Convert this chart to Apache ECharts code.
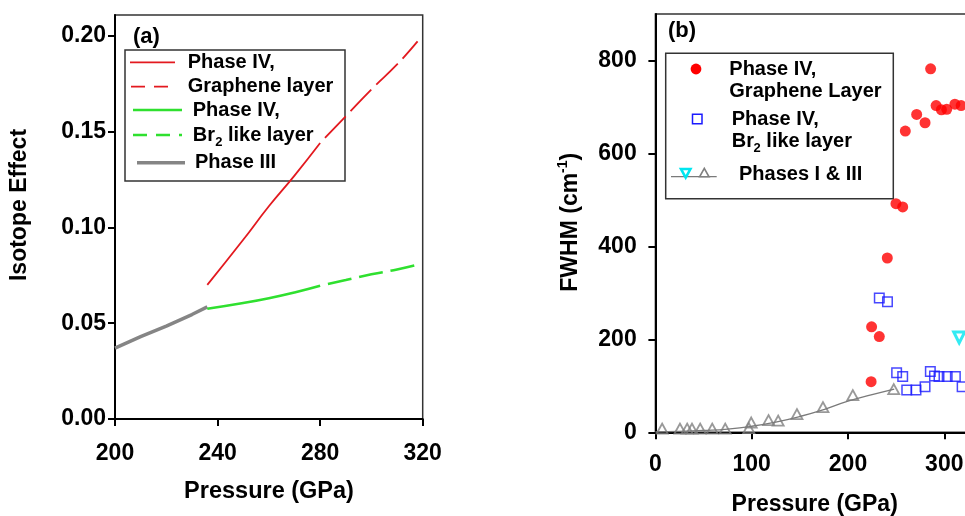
<!DOCTYPE html>
<html>
<head>
<meta charset="utf-8">
<script src="https://cdn.jsdelivr.net/npm/echarts@6/dist/echarts.min.js"></script>
<style>
  html, body { margin: 0; padding: 0; background: #fff; }
  #chart { width: 965px; height: 516px; }
</style>
</head>
<body>
<div id="chart"></div>
<script>
// ---- Panel (a): isotope effect against pressure ----
const pressureIII = [200, 210, 220, 230, 236];
const isotopeIII = [0.037, 0.043, 0.0485, 0.0545, 0.0585];
const pressureGrapheneSolid = [236, 250, 260, 270, 280];
const isotopeGrapheneSolid = [0.070, 0.0935, 0.111, 0.127, 0.144];
const pressureGrapheneDash = [280, 290, 300, 310, 318];
const isotopeGrapheneDash = [0.144, 0.158, 0.172, 0.185, 0.197];
const pressureBr2Solid = [236, 250, 260, 270, 280];
const isotopeBr2Solid = [0.0575, 0.0605, 0.063, 0.066, 0.0695];
const pressureBr2Dash = [280, 290, 300, 310, 318];
const isotopeBr2Dash = [0.0695, 0.0725, 0.0755, 0.078, 0.0805];
const isotopeTicks = [0, 0.05, 0.10, 0.15, 0.20];

// ---- Panel (b): FWHM against pressure ----
const grapheneP = [224, 224.5, 232.5, 240.8, 249.8, 256.8, 259.5, 271.3, 280, 285.8, 291.5, 297, 302.5, 311, 317.5];
const grapheneFwhm = [109, 227, 206, 375, 492, 485, 648, 684, 666, 782, 703, 694, 695, 706, 703];
const br2P = [232.5, 241, 250.5, 256.8, 261, 270.6, 280, 285.5, 289.8, 294.5, 303, 311.5, 318.5];
const br2Fwhm = [289, 281, 128, 120, 91, 91, 98, 131, 121, 120, 120, 120, 98];
const phaseIP = [315.5];
const phaseIFwhm = [204];
const phaseIIIP = [7, 25.5, 33, 38, 46.5, 59, 72.5, 97, 99.5, 117.5, 127.5, 147, 174, 205, 247.5];
const phaseIIIFwhm = [8, 8, 8, 8, 8, 8, 8, 9, 21, 26, 25, 39, 54, 80, 93];
const fitP = [0, 25, 50, 75, 100, 125, 150, 175, 200, 225, 248];
const fitFwhm = [1, 2, 4, 7, 13, 22, 34, 49, 67, 81, 93];
const fwhmTicks = [0, 200, 400, 600, 800];

const FONT = '"Liberation Sans", Arial, Helvetica, sans-serif';
const zip = (xs, ys) => xs.map((x, i) => [x, ys[i]]);

const chart = echarts.init(document.getElementById('chart'), null, { renderer: 'canvas' });

function axisBase(extra) {
  return Object.assign({
    type: 'value',
    axisLine: { show: true, onZero: false, lineStyle: { color: '#000', width: 2 } },
    axisTick: { show: true, inside: false, length: 7, lineStyle: { color: '#000', width: 2 } },
    splitLine: { show: false }
  }, extra);
}
function labelStyle(margin, formatter, customValues) {
  const s = { color: '#000', fontFamily: FONT, fontWeight: 'bold', fontSize: 23, margin: margin };
  if (formatter) s.formatter = formatter;
  if (customValues) s.customValues = customValues;
  return s;
}
function text(x, y, s, size, opts) {
  opts = opts || {};
  return {
    type: 'text', x: x, y: y, z: 10, rotation: opts.rotation || 0,
    style: {
      text: s, x: 0, y: 0, fill: '#000',
      font: 'bold ' + size + 'px ' + FONT,
      align: opts.align || 'left', verticalAlign: 'middle',
      textAlign: opts.align || 'left', textVerticalAlign: 'middle'
    }
  };
}
function seg(x1, y1, x2, y2, color, width, dash) {
  return {
    type: 'line', z: 10,
    shape: { x1: x1, y1: y1, x2: x2, y2: y2 },
    style: { stroke: color, lineWidth: width, lineDash: dash || null }
  };
}

const RED_A = '#e3191f', GREEN_A = '#2fe02f', GRAY_A = '#858585';

const option = {
  animation: false,
  backgroundColor: '#fff',
  grid: [
    { left: 115, top: 15, width: 307.7, height: 404, outerBoundsMode: 'none', containLabel: false,
      show: true, borderColor: '#333', borderWidth: 1.5, backgroundColor: 'transparent' },
    { left: 655.4, top: 14, width: 385.2, height: 418.3, outerBoundsMode: 'none', containLabel: false,
      show: true, borderColor: '#333', borderWidth: 1.5, backgroundColor: 'transparent' }
  ],
  xAxis: [
    axisBase({ gridIndex: 0, min: 200, max: 320, interval: 40, axisLabel: labelStyle(23) }),
    axisBase({ gridIndex: 1, min: 0, max: 400, interval: 100, axisLabel: labelStyle(21) })
  ],
  yAxis: [
    axisBase({
      gridIndex: 0, min: 0, max: 0.2108,
      axisTick: { show: true, inside: false, length: 7, customValues: isotopeTicks, lineStyle: { color: '#000', width: 2 } },
      axisLabel: labelStyle(9, v => v.toFixed(2), isotopeTicks)
    }),
    axisBase({
      gridIndex: 1, min: 0, max: 900,
      axisTick: { show: true, inside: false, length: 7, customValues: fwhmTicks, lineStyle: { color: '#000', width: 2 } },
      axisLabel: labelStyle(18.7, null, fwhmTicks)
    })
  ],
  series: [
    // (a) curves
    { type: 'line', xAxisIndex: 0, yAxisIndex: 0, data: zip(pressureIII, isotopeIII), symbol: 'none', silent: true,
      lineStyle: { color: GRAY_A, width: 3.5 } },
    { type: 'line', xAxisIndex: 0, yAxisIndex: 0, data: zip(pressureBr2Solid, isotopeBr2Solid), symbol: 'none', silent: true, smooth: true,
      lineStyle: { color: GREEN_A, width: 2.6 } },
    { type: 'line', xAxisIndex: 0, yAxisIndex: 0, data: zip(pressureBr2Dash, isotopeBr2Dash), symbol: 'none', silent: true, smooth: true,
      lineStyle: { color: GREEN_A, width: 2.6, type: [24, 8], dashOffset: 24 } },
    { type: 'line', xAxisIndex: 0, yAxisIndex: 0, data: zip(pressureGrapheneSolid, isotopeGrapheneSolid), symbol: 'none', silent: true, smooth: true,
      lineStyle: { color: RED_A, width: 1.8 } },
    { type: 'line', xAxisIndex: 0, yAxisIndex: 0, data: zip(pressureGrapheneDash, isotopeGrapheneDash), symbol: 'none', silent: true, smooth: true,
      lineStyle: { color: RED_A, width: 1.8, type: [30, 7], dashOffset: 30 } },
    // (b) markers
    { type: 'line', xAxisIndex: 1, yAxisIndex: 1, data: zip(fitP, fitFwhm), symbol: 'none', silent: true, smooth: true,
      lineStyle: { color: '#7a7a7a', width: 1.3 } },
    { type: 'scatter', xAxisIndex: 1, yAxisIndex: 1, data: zip(phaseIIIP, phaseIIIFwhm), symbol: 'triangle', symbolSize: [11, 10], silent: true,
      itemStyle: { color: 'rgba(255,255,255,0)', borderColor: '#808080', borderWidth: 1.8 } },
    { type: 'scatter', xAxisIndex: 1, yAxisIndex: 1, data: zip(grapheneP, grapheneFwhm), symbol: 'circle', symbolSize: 11, silent: true,
      itemStyle: { color: '#ff0000' } },
    { type: 'scatter', xAxisIndex: 1, yAxisIndex: 1, data: zip(br2P, br2Fwhm), symbol: 'rect', symbolSize: 9.5, silent: true,
      itemStyle: { color: 'rgba(255,255,255,0)', borderColor: '#1a1aff', borderWidth: 1.5 } },
    { type: 'scatter', xAxisIndex: 1, yAxisIndex: 1, data: zip(phaseIP, phaseIFwhm), symbol: 'triangle', symbolRotate: 180, symbolSize: 11, silent: true,
      itemStyle: { color: 'rgba(255,255,255,0)', borderColor: '#00e6f0', borderWidth: 3 } }
  ],
  graphic: [
    // panel tags
    text(133, 37, '(a)', 22),
    text(668, 31, '(b)', 22),
    // axis titles
    text(20, 205, 'Isotope Effect', 23, { rotation: Math.PI / 2, align: 'center' }),
    text(269, 491.7, 'Pressure (GPa)', 23.5, { align: 'center' }),
    text(814.7, 505, 'Pressure (GPa)', 23, { align: 'center' }),
    {
      type: 'group', x: 571, y: 291.7, rotation: Math.PI / 2,
      children: [
        text(0, 0, 'FWHM (cm', 23),
        text(118.8, -8, '-1', 14),
        text(131.2, 0, ')', 23)
      ]
    },
    // legend (a)
    { type: 'rect', z: 1, shape: { x: 125, y: 50, width: 220, height: 131 }, style: { fill: 'rgba(255,255,255,0)', stroke: '#333', lineWidth: 1.5 } },
    seg(130, 62.3, 175, 62.3, RED_A, 1.8),
    text(187.7, 62.3, 'Phase IV,', 20),
    seg(131, 86.7, 176, 86.7, RED_A, 1.8, [14, 9]),
    text(187.7, 86.7, 'Graphene layer', 20),
    seg(133, 110, 182, 110, GREEN_A, 2.6),
    text(192.7, 110, 'Phase IV,', 20),
    seg(133, 135, 182, 135, GREEN_A, 2.6, [14, 9]),
    text(192.7, 135, 'Br', 20),
    text(215.2, 142, '2', 13),
    text(222.4, 135, ' like layer', 20),
    seg(137, 162.7, 185, 162.7, GRAY_A, 3.5),
    text(195, 162.7, 'Phase III', 20),
    // legend (b)
    { type: 'rect', z: 1, shape: { x: 665.7, y: 53.3, width: 227.6, height: 145.4 }, style: { fill: 'rgba(255,255,255,0)', stroke: '#333', lineWidth: 1.5 } },
    { type: 'circle', z: 10, shape: { cx: 696, cy: 69, r: 5.4 }, style: { fill: '#ff0000' } },
    text(729.3, 69, 'Phase IV,', 20),
    text(729.3, 91, 'Graphene Layer', 20),
    { type: 'rect', z: 10, shape: { x: 692.5, y: 114.2, width: 9.5, height: 9.5 }, style: { fill: 'rgba(255,255,255,0)', stroke: '#1a1aff', lineWidth: 1.5 } },
    text(731.7, 119, 'Phase IV,', 20),
    text(731.7, 141.7, 'Br', 20),
    text(753.6, 148.3, '2', 13),
    text(760.8, 141.7, ' like layer', 20),
    seg(671, 176.7, 716.7, 176.7, '#7a7a7a', 1.2),
    { type: 'polygon', z: 10, shape: { points: [[681, 169], [690.4, 169], [685.7, 177.6]] }, style: { fill: 'rgba(255,255,255,0)', stroke: '#00e6f0', lineWidth: 2.6 } },
    { type: 'polygon', z: 10, shape: { points: [[699.6, 176.8], [709, 176.8], [704.3, 168.4]] }, style: { fill: 'rgba(255,255,255,0)', stroke: '#808080', lineWidth: 1.6 } },
    text(739, 174, 'Phases I & III', 20)
  ]
};

chart.setOption(option);
</script>
</body>
</html>
